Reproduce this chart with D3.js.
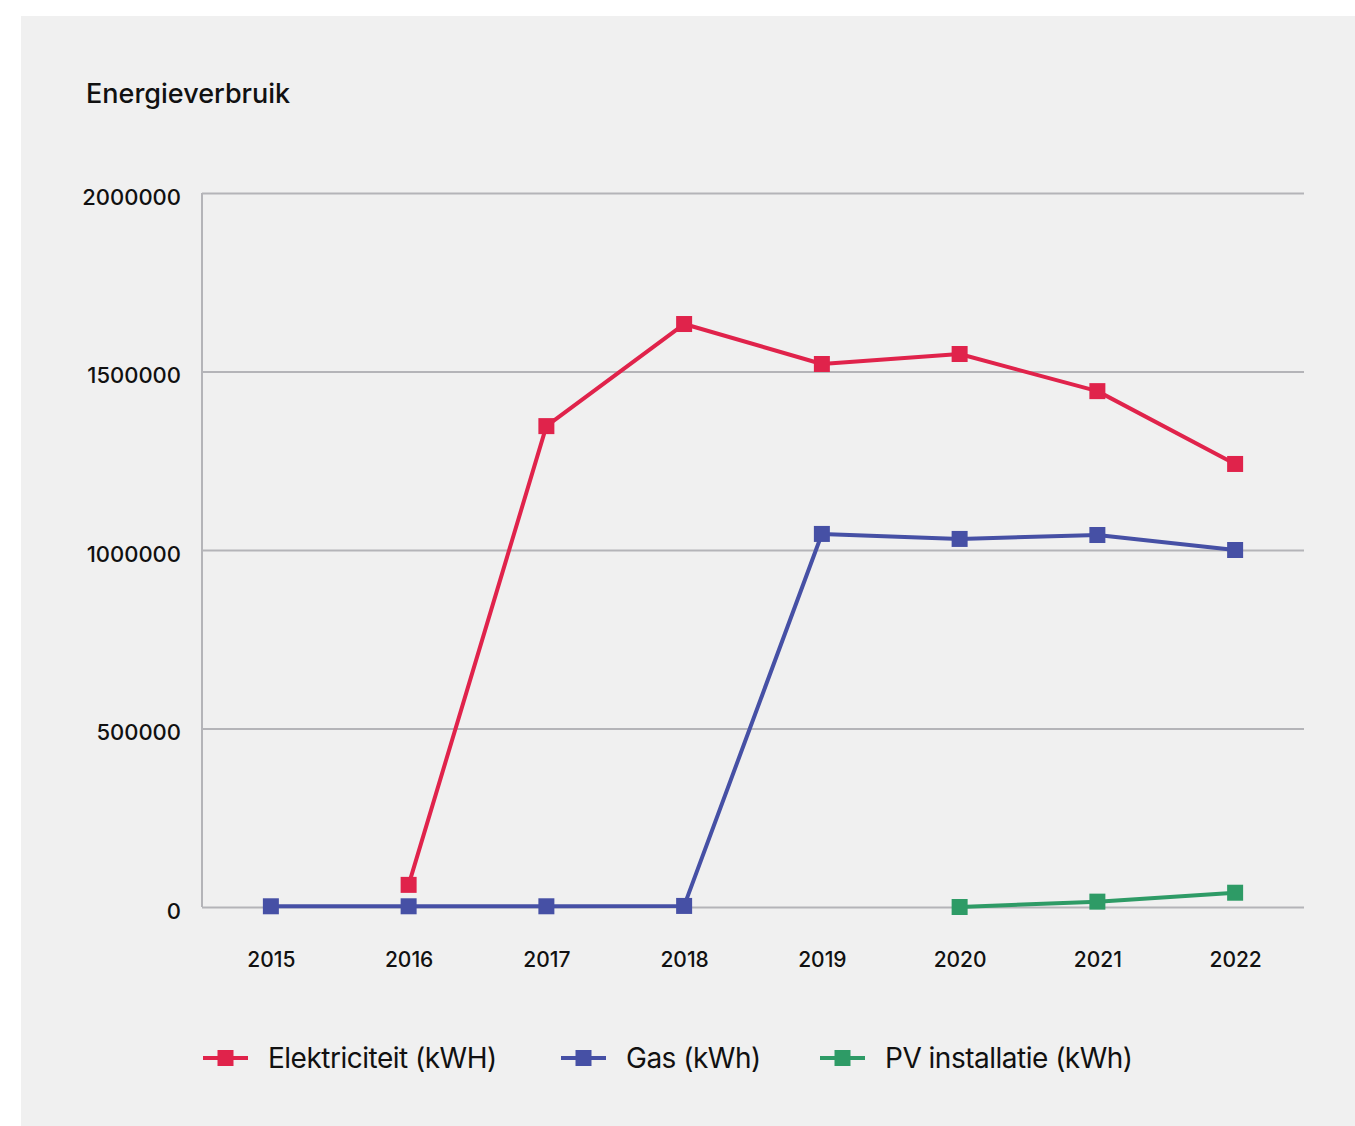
<!DOCTYPE html>
<html>
<head>
<meta charset="utf-8">
<script src="https://cdn.jsdelivr.net/npm/d3@7"></script>
<style>
  body { margin: 0; background: #fff; font-family: Inter, "Noto Sans", sans-serif; }
</style>
</head>
<body>
<script>
const years = ['2015', '2016', '2017', '2018', '2019', '2020', '2021', '2022']
const elektriciteit = [null, 62000, 1347000, 1633000, 1521000, 1549000, 1445000, 1241000]
const gas = [2000, 2000, 2000, 3000, 1045000, 1031000, 1042000, 1000000]
const pv = [null, null, null, null, null, 0, 15000, 40000]
const yTicks = [0, 500000, 1000000, 1500000, 2000000]

const series = [
  { name: 'Elektriciteit (kWH)', values: elektriciteit, color: '#e0234b' },
  { name: 'Gas (kWh)', values: gas, color: '#4650a5' },
  { name: 'PV installatie (kWh)', values: pv, color: '#2e9b66' }
]

const W = 1355, H = 1126
const margin = { top: 193, right: 51, bottom: 219, left: 202 }
const width = W - margin.left - margin.right
const height = H - margin.top - margin.bottom

const root = d3.select('body').append('svg')
  .attr('width', W)
  .attr('height', H)

root.append('rect')
  .attr('x', 21).attr('y', 16)
  .attr('width', W - 21).attr('height', H - 16)
  .attr('fill', '#f0f0f0')

root.append('text')
  .attr('x', 86).attr('y', 103)
  .attr('font-size', 27)
  .attr('font-weight', 500)
  .attr('fill', '#111')
  .text('Energieverbruik')

const svg = root.append('g')
  .attr('transform', `translate(${margin.left}, ${margin.top})`)

const xScale = d3.scalePoint().domain(years).range([0, width]).padding(0.5)
const yScale = d3.scaleLinear().domain([0, 2000000]).range([height, 0])

// gridlines
svg.append('g')
  .call(d3.axisLeft(yScale).tickValues(yTicks).tickSize(-width).tickFormat(''))
  .call(g => g.select('.domain').remove())
  .call(g => g.selectAll('line').attr('stroke', '#b4b4b8').attr('stroke-width', 2))

svg.append('line')
  .attr('x1', 0).attr('x2', 0)
  .attr('y1', 0).attr('y2', height)
  .attr('stroke', '#b4b4b8').attr('stroke-width', 2)

// y labels
svg.append('g')
  .call(d3.axisLeft(yScale).tickValues(yTicks).tickSize(0).tickPadding(21).tickFormat(d3.format('d')))
  .call(g => g.select('.domain').remove())
  .call(g => g.selectAll('text')
    .attr('font-size', 22).attr('font-weight', 500).attr('font-family', 'Inter, sans-serif')
    .attr('fill', '#111').attr('dy', '0.5em'))

// x labels
svg.append('g')
  .attr('transform', `translate(0, ${height})`)
  .call(d3.axisBottom(xScale).tickSize(0).tickPadding(45))
  .call(g => g.select('.domain').remove())
  .call(g => g.selectAll('text')
    .attr('font-size', 21).attr('font-weight', 500).attr('font-family', 'Inter, sans-serif').attr('fill', '#111'))

const line = d3.line()
  .defined(d => d.v !== null)
  .x(d => xScale(d.year))
  .y(d => yScale(d.v))

const ms = 16
series.forEach(s => {
  const pts = years.map((year, i) => ({ year, v: s.values[i] }))
  svg.append('path')
    .datum(pts)
    .attr('fill', 'none')
    .attr('stroke', s.color)
    .attr('stroke-width', 4)
    .attr('stroke-linejoin', 'round')
    .attr('d', line)
  svg.selectAll(null)
    .data(pts.filter(d => d.v !== null))
    .enter().append('rect')
    .attr('x', d => xScale(d.year) - ms / 2)
    .attr('y', d => yScale(d.v) - ms / 2)
    .attr('width', ms).attr('height', ms)
    .attr('fill', s.color)
})

// legend
const legendX = [203, 561, 820]
const legend = root.append('g').attr('transform', 'translate(0, 1058)')
series.forEach((s, i) => {
  const g = legend.append('g').attr('transform', `translate(${legendX[i]}, 0)`)
  g.append('line')
    .attr('x1', 0).attr('x2', 45)
    .attr('stroke', s.color).attr('stroke-width', 4)
  g.append('rect')
    .attr('x', 22.5 - ms / 2).attr('y', -ms / 2)
    .attr('width', ms).attr('height', ms)
    .attr('fill', s.color)
  g.append('text')
    .attr('x', 65).attr('dy', '0.36em')
    .attr('font-size', 28)
    .attr('letter-spacing', -0.5)
    .attr('fill', '#111')
    .text(s.name)
})
</script>
</body>
</html>
